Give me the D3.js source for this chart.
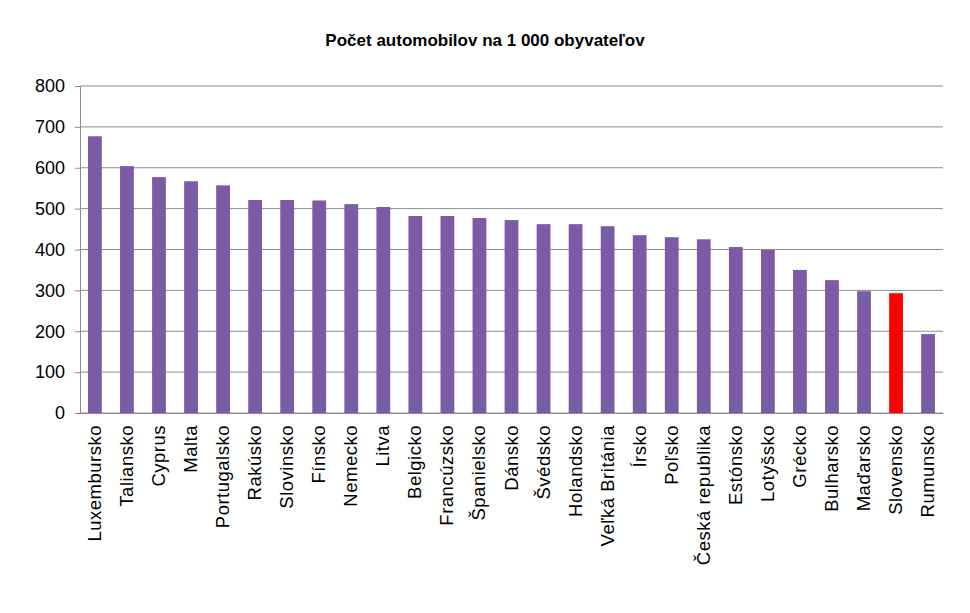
<!DOCTYPE html>
<html><head><meta charset="utf-8">
<script src="https://cdn.jsdelivr.net/npm/d3@7"></script>
<style>body{margin:0;background:#fff;font-family:Calibri,"Liberation Sans",Arial,sans-serif}</style>
</head><body><div id="chart"></div>
<script>
var countries = ["Luxembursko","Taliansko","Cyprus","Malta","Portugalsko","Rakúsko","Slovinsko","Fínsko","Nemecko","Litva","Belgicko","Francúzsko","Španielsko","Dánsko","Švédsko","Holandsko","Veľká Británia","Írsko","Poľsko","Česká republika","Estónsko","Lotyšsko","Grécko","Bulharsko","Maďarsko","Slovensko","Rumunsko"];
var cars = [677,604,577,567,557,521,521,520,511,504,482,482,477,472,462,462,457,435,430,425,406,399,350,325,298,293,193];
var yTicks = [0,100,200,300,400,500,600,700,800];
var highlight = "Slovensko";

var margin = { top: 86, right: 27, bottom: 200, left: 80 };
var width = 970 - margin.left - margin.right;
var height = 613 - margin.top - margin.bottom;

var svg = d3.select("#chart").append("svg")
    .attr("width", 970).attr("height", 613)
    .style("font-family", "'Liberation Sans', Arial, sans-serif");

svg.append("text").attr("x", 485).attr("y", 46).attr("text-anchor", "middle")
    .style("font-size", "17px").style("font-weight", "bold")
    .text("Počet automobilov  na 1 000 obyvateľov");

var g = svg.append("g").attr("transform", "translate(" + margin.left + "," + margin.top + ")");

var x = d3.scaleBand().domain(countries).range([0, width]).paddingInner(0.57).paddingOuter(0.25);
var y = d3.scaleLinear().domain([0, 800]).range([height, 0]);

g.append("g").selectAll("line").data(yTicks).enter().append("line")
    .attr("x1", 0).attr("x2", width)
    .attr("y1", function(d) { return y(d); }).attr("y2", function(d) { return y(d); })
    .attr("stroke", "#8c8c8c").attr("stroke-width", 1);

var yAxis = g.append("g").call(d3.axisLeft(y).tickValues(yTicks).tickSize(5).tickPadding(10));
yAxis.selectAll("text").style("font-size", "18px").attr("fill", "#000");
yAxis.selectAll("line,path").attr("stroke", "#8c8c8c");

g.selectAll("rect.bar").data(cars).enter().append("rect")
    .attr("x", function(d, i) { return x(countries[i]); })
    .attr("y", function(d) { return y(d); })
    .attr("width", x.bandwidth())
    .attr("height", function(d) { return height - y(d); })
    .attr("fill", function(d, i) { return countries[i] === highlight ? "#ff0000" : "#7b5aa6"; });

var xAxis = g.append("g").attr("transform", "translate(0," + height + ")")
    .call(d3.axisBottom(x).tickSize(0).tickPadding(0));
xAxis.select("path").attr("stroke", "#8c8c8c");
xAxis.selectAll("text")
    .style("font-size", "18.5px").style("letter-spacing", "0.5px").attr("fill", "#000")
    .attr("text-anchor", "end")
    .attr("transform", "translate(6,12) rotate(-90)")
    .attr("dy", "0");
</script></body></html>
